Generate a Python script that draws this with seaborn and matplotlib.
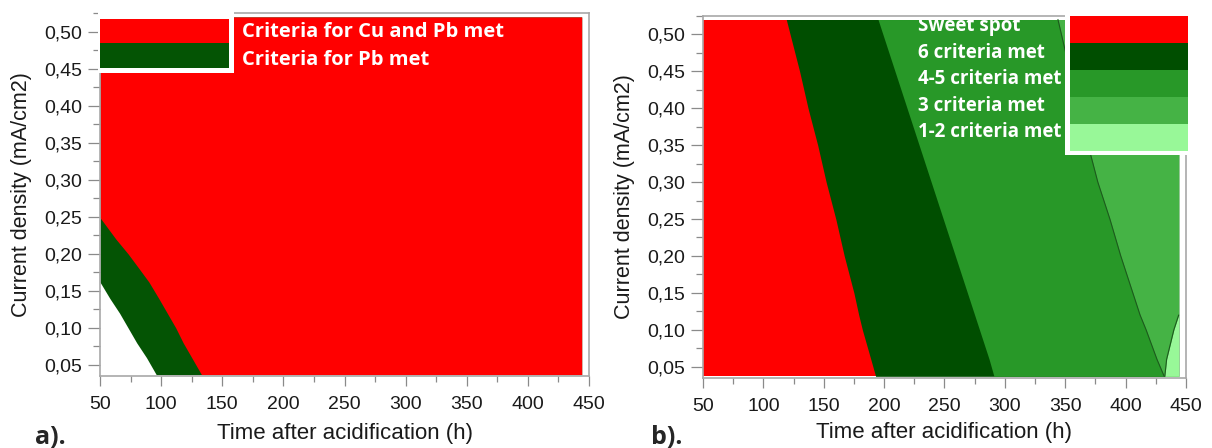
import matplotlib
matplotlib.use("Agg")
import matplotlib.pyplot as plt
from matplotlib.patches import Rectangle
from matplotlib.ticker import MultipleLocator, FuncFormatter
import seaborn as sns

# --- values (time in h, current density in mA/cm2) ---
# panel a: left edge of each region at a given current density
density_a = [0.037, 0.06, 0.08, 0.10, 0.12, 0.14, 0.162, 0.18, 0.20, 0.22, 0.249, 0.52]
pb_edge_a = [96, 88, 80, 73, 66, 58, 50, 50, 50, 50, 50, 50]
cu_pb_edge_a = [133, 125, 118, 112, 105, 98, 90, 82, 73, 63, 50, 50]

# panel b: left edge of each region at a given current density
density_b = [0.037, 0.06, 0.10, 0.12, 0.15, 0.20, 0.25, 0.30, 0.35, 0.40, 0.45, 0.52]
sweet_edge_b = [50, 50, 50, 50, 50, 50, 50, 50, 50, 50, 50, 50]
six_edge_b = [193, 189, 182, 179, 175, 167, 160, 152, 145, 137, 130, 119]
four_five_edge_b = [291, 287, 279, 275, 269, 259, 249, 239, 229, 219, 209, 195]
three_edge_b = [432, 426, 417, 412, 406, 396, 387, 377, 369, 361, 354, 344]
one_two_edge_b = [432.5, 434, 440, 444, 444, 444, 444, 444, 444, 444, 444, 444]
time_end = 444

legend_a = ["Criteria for Cu and Pb met", "Criteria for Pb met"]
legend_b = ["Sweet spot", "6 criteria met", "4-5 criteria met", "3 criteria met", "1-2 criteria met"]

x_ticks = [50, 100, 150, 200, 250, 300, 350, 400, 450]
y_ticks = [0.05, 0.10, 0.15, 0.20, 0.25, 0.30, 0.35, 0.40, 0.45, 0.50]

# colours
RED = "#ff0000"
GREEN_A = "#045404"
colors_b = ["#ff0000", "#004e00", "#289828", "#45b345", "#98f898"]
colors_a = [RED, GREEN_A]
LEGEND_FONT = ["Open Sans", "DejaVu Sans"]

sns.set_theme(style="ticks")
plt.rcParams["font.family"] = ["Liberation Sans", "DejaVu Sans"]

fig = plt.figure(figsize=(12.12, 4.48), dpi=100)
ax_a = fig.add_axes([0.0825, 0.1605, 0.4035, 0.810])
ax_b = fig.add_axes([0.5800, 0.1567, 0.3985, 0.808])


def style_axis(ax):
    ax.set_xlim(50, 450)
    ax.set_ylim(0.035, 0.525)
    ax.set_xticks(x_ticks)
    ax.set_yticks(y_ticks)
    ax.xaxis.set_minor_locator(MultipleLocator(25))
    ax.yaxis.set_minor_locator(MultipleLocator(0.025))
    ax.yaxis.set_major_formatter(FuncFormatter(lambda v, p: f"{v:.2f}".replace(".", ",")))
    for s in ax.spines.values():
        s.set_color("#a8a8a8")
        s.set_linewidth(1.2)
    ax.tick_params(which="both", width=0.9, color="#8a8a8a")
    ax.tick_params(which="major", labelsize=14, labelcolor="#1a1a1a")
    ax.tick_params(axis="x", which="major", length=7.5, pad=7)
    ax.tick_params(axis="x", which="minor", length=4.5)
    ax.tick_params(axis="y", which="major", length=9, pad=4)
    ax.tick_params(axis="y", which="minor", length=5)
    ax.set_xlabel("Time after acidification (h)", fontsize=16, color="#1a1a1a")
    ax.set_ylabel("Current density (mA/cm2)", fontsize=15.5, color="#1a1a1a")
    ax.xaxis.label.set_va("center")
    ax.yaxis.label.set_va("center")
    ax.set_facecolor("white")


# panel a
ax_a.fill_betweenx(density_a, pb_edge_a, time_end, color=GREEN_A, lw=0)
ax_a.fill_betweenx(density_a, cu_pb_edge_a, time_end, color=RED, lw=0)
style_axis(ax_a)
ax_a.xaxis.set_label_coords(0.5, -0.157)
ax_a.yaxis.set_label_coords(-0.160, 0.5)

# legend a: swatches on the left, white text on the red area
ax_a.add_patch(Rectangle((-0.004, 0.836), 0.278, 0.17, transform=ax_a.transAxes,
                         facecolor="white", edgecolor="none", clip_on=False, zorder=5))
for i, (lab, c) in enumerate(zip(legend_a, colors_a)):
    top = 0.984 - i * 0.067
    ax_a.add_patch(Rectangle((0.0, top - 0.067), 0.264, 0.067, transform=ax_a.transAxes,
                             facecolor=c, edgecolor="none", clip_on=False, zorder=6))
    ax_a.text(0.29, 0.949 - i * 0.078, lab, transform=ax_a.transAxes, color="white",
              fontsize=14.5, fontweight="bold", family=LEGEND_FONT,
              ha="left", va="center", zorder=7)

# panel b
edges_b = [sweet_edge_b, six_edge_b, four_five_edge_b, three_edge_b, one_two_edge_b]
for edge, c in zip(edges_b, colors_b):
    ax_b.fill_betweenx(density_b, edge, time_end, color=c, lw=0)
ax_b.plot(three_edge_b, density_b, color="#1d5a1d", lw=0.8)
ax_b.plot(one_two_edge_b[:4], density_b[:4], color="#1d5a1d", lw=0.8)
style_axis(ax_b)
ax_b.xaxis.set_label_coords(0.5, -0.152)
ax_b.yaxis.set_label_coords(-0.1615, 0.5)

# legend b: white text on the left, swatches on the right
ax_b.add_patch(Rectangle((0.749, 0.615), 0.259, 0.39, transform=ax_b.transAxes,
                         facecolor="white", edgecolor="none", clip_on=False, zorder=5))
band = 0.0749
for i, (lab, c) in enumerate(zip(legend_b, colors_b)):
    top = 1.0 - i * band
    ax_b.add_patch(Rectangle((0.760, top - band), 0.244, band, transform=ax_b.transAxes,
                             facecolor=c, edgecolor="none", clip_on=False, zorder=6))
    ax_b.text(0.445, 0.972 - i * 0.0735, lab, transform=ax_b.transAxes, color="white",
              fontsize=13.5, fontweight="bold", family=LEGEND_FONT,
              ha="left", va="center", zorder=7, clip_on=True)

fig.text(50 / 1212, 1 - 437 / 448, "a).", fontsize=18, fontweight="bold",
         family=LEGEND_FONT, ha="center", va="center")
fig.text(667 / 1212, 1 - 437 / 448, "b).", fontsize=18, fontweight="bold",
         family=LEGEND_FONT, ha="center", va="center")

fig.savefig("out.png", dpi=100)
